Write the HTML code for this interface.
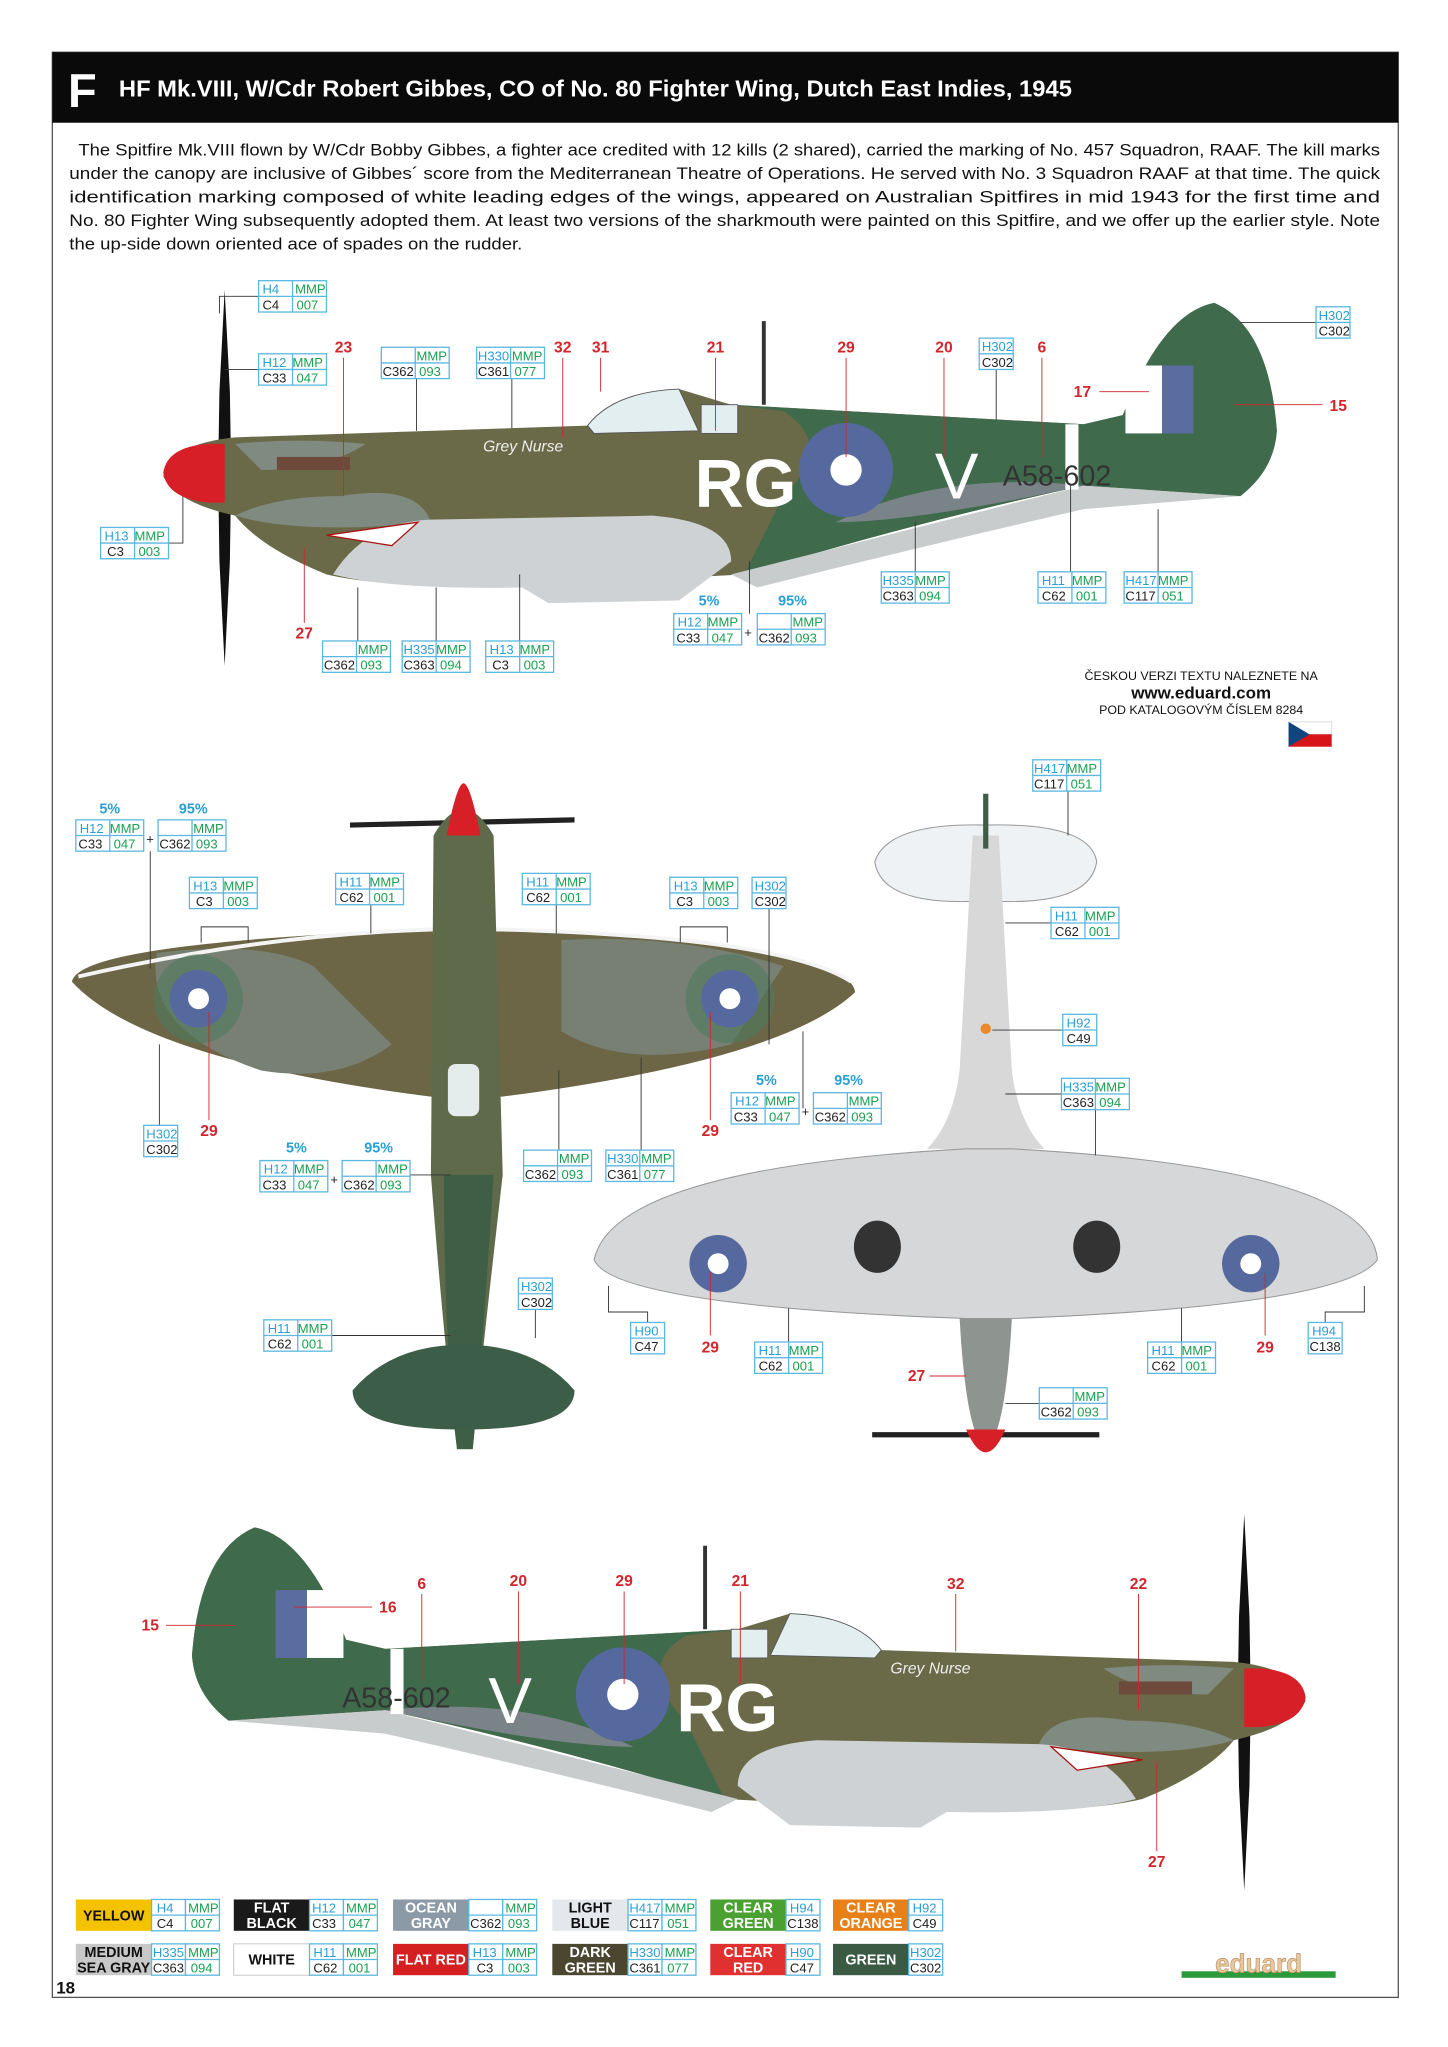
<!DOCTYPE html>
<html><head><meta charset="utf-8"><style>
html,body{margin:0;padding:0;background:#fff}
svg{display:block}
text{font-family:"Liberation Sans",sans-serif}
.h{fill:#2a9fd6;font-size:10px}.m{fill:#1aa050;font-size:10px}.c{fill:#222;font-size:10px}
.r{fill:#d0262c;font-size:12px;font-weight:bold}
.p{fill:#2a9fd6;font-size:11px;font-weight:bold}
.ld{stroke:#333;stroke-width:.7;fill:none}
.lr{stroke:#d0262c;stroke-width:.7;fill:none}
.lg{font-size:11px;font-weight:bold;fill:#fff;text-anchor:middle}
</style></head><body>
<svg width="1448" height="2047" viewBox="0 0 1109 1568" xmlns="http://www.w3.org/2000/svg" xmlns:xlink="http://www.w3.org/1999/xlink">
<defs>
<g id="bx"><rect x="0" y="0" width="52" height="24" fill="#fff" stroke="#5bb8e0" stroke-width="1"/><line x1="26" y1="0" x2="26" y2="24" stroke="#5bb8e0"/><line x1="0" y1="12" x2="52" y2="12" stroke="#5bb8e0"/></g>
<g id="bs"><rect x="0" y="0" width="26" height="24" fill="#fff" stroke="#5bb8e0" stroke-width="1"/><line x1="0" y1="12" x2="26" y2="12" stroke="#5bb8e0"/></g>
<g id="side">
 <path d="M172,222 L176,300 L177,362 L176,430 L172,510 L168,430 L167,362 L168,300Z" fill="#111"/>
 <path d="M125,365 Q130,340 180,335 L450,326 Q470,300 520,298 L560,310 L830,325 L860,318 Q890,240 930,232 Q972,250 978,330 Q976,360 950,380 L830,372 Q700,400 570,440 L420,448 Q300,452 250,440 Q200,420 180,395 Q135,385 125,365Z" fill="#6b6a48"/>
 <path d="M560,310 L830,325 L860,318 Q890,240 930,232 Q972,250 978,330 Q976,360 950,380 L830,372 Q700,400 570,440 L600,380 Q640,340 600,315Z" fill="#3f6b4c"/>
 <path d="M180,395 Q230,410 330,400 Q320,370 260,380 Q210,380 180,395Z" fill="#7f8a80"/>
 <path d="M180,340 Q230,335 280,340 Q250,360 200,360Z" fill="#7f8a80"/>
 <path d="M640,400 Q720,360 830,372 Q700,400 640,400Z" fill="#7a8488"/>
 <path d="M255,440 Q280,400 330,398 L500,395 Q560,400 560,430 L520,460 L420,462 L400,450 Q300,452 255,440Z" fill="#cfd2d4"/>
 <path d="M560,440 L830,372 L950,380 L830,390 Q700,420 580,450Z" fill="#c8cccc"/>
 <path d="M450,326 Q470,300 520,298 L535,330 L455,332Z" fill="#e2eef0" stroke="#555" stroke-width=".7"/>
 <rect x="537" y="310" width="28" height="22" fill="#e2eef0" stroke="#555" stroke-width=".7"/>
 <line x1="585" y1="246" x2="585" y2="310" stroke="#333" stroke-width="3"/>
 <rect x="816" y="325" width="10" height="50" fill="#fff"/>
 <rect x="862" y="280" width="28" height="52" fill="#fff"/><rect x="890" y="280" width="24" height="52" fill="#5a6ca0"/>
 <path d="M125,362 Q128,342 160,340 L172,340 L172,385 L160,385 Q128,382 125,362Z" fill="#d61f26"/>
 <circle cx="648" cy="360" r="36" fill="#56699e"/><circle cx="648" cy="360" r="12" fill="#fff"/>
 <rect x="212" y="350" width="56" height="10" fill="#6d4a3c"/>
 <path d="M250,410 L320,400 L300,418 Z" fill="#fff" stroke="#a11" stroke-width="1"/>
</g>
</defs>
<rect x="40" y="40" width="1031" height="1490" fill="#fff" stroke="#555" stroke-width="1"/>
<rect x="40" y="40" width="1031" height="54" fill="#0a0a0a"/>
<text x="52" y="82" fill="#fff" font-size="36" font-weight="bold">F</text>
<text x="91" y="74" fill="#fff" font-size="18" font-weight="bold" textLength="730" lengthAdjust="spacingAndGlyphs">HF Mk.VIII, W/Cdr Robert Gibbes, CO of No. 80 Fighter Wing, Dutch East Indies, 1945</text>
<g font-size="12.5" fill="#111">
<text x="60" y="119" textLength="997" lengthAdjust="spacingAndGlyphs">The Spitfire Mk.VIII flown by W/Cdr Bobby Gibbes, a fighter ace credited with 12 kills (2 shared), carried the marking of No. 457 Squadron, RAAF. The kill marks</text>
<text x="53" y="137" textLength="1004" lengthAdjust="spacingAndGlyphs">under the canopy are inclusive of Gibbes´ score from the Mediterranean Theatre of Operations. He served with No. 3 Squadron RAAF at that time. The quick</text>
<text x="53" y="155" textLength="1004" lengthAdjust="spacingAndGlyphs">identification marking composed of white leading edges of the wings, appeared on Australian Spitfires in mid 1943 for the first time and</text>
<text x="53" y="173" textLength="1004" lengthAdjust="spacingAndGlyphs">No. 80 Fighter Wing subsequently adopted them. At least two versions of the sharkmouth were painted on this Spitfire, and we offer up the earlier style. Note</text>
<text x="53" y="191" textLength="347" lengthAdjust="spacingAndGlyphs">the up-side down oriented ace of spades on the rudder.</text>
</g>
<use xlink:href="#side"/>
<text x="532" y="388" fill="#fff" font-size="52" font-weight="bold">RG</text>
<text x="716" y="382" fill="#fff" font-size="50">V</text>
<text x="768" y="372" fill="#333" font-size="22">A58-602</text>
<text x="370" y="346" fill="#eee" font-size="12" font-style="italic">Grey Nurse</text>
<use xlink:href="#side" transform="translate(1125,938) scale(-1,1)"/>
<text x="374" y="1320" fill="#fff" font-size="50">V</text>
<text x="518" y="1326" fill="#fff" font-size="52" font-weight="bold">RG</text>
<text x="262" y="1308" fill="#333" font-size="22">A58-602</text>
<text x="682" y="1282" fill="#eee" font-size="12" font-style="italic">Grey Nurse</text>
<!-- top view -->
<path d="M268,630 L440,626 L440,630 L268,634Z" fill="#222"/>
<path d="M55,752 Q60,722 330,712 L385,712 Q650,722 655,760 Q600,812 385,840 L330,840 Q110,812 55,752Z" fill="#6c6646"/>
<path d="M120,730 Q200,720 240,740 L300,800 Q260,830 200,820 Q110,790 120,730Z" fill="#788074"/>
<path d="M430,720 Q520,715 600,740 L560,800 Q480,820 430,790Z" fill="#788074"/>
<path d="M60,748 Q200,716 330,712 L385,712 Q600,718 652,752" stroke="#f4f4f4" stroke-width="3" fill="none"/>
<path d="M332,640 Q355,600 378,640 L385,900 Q370,1030 362,1110 L350,1110 Q340,1030 330,900Z" fill="#5e6a4a"/>
<path d="M340,900 L378,900 Q370,1030 362,1110 L350,1110 Q340,1030 340,900Z" fill="#3f5e46"/>
<path d="M342,640 Q350,600 355,600 Q360,600 368,640Z" fill="#d61f26"/>
<path d="M270,1065 Q300,1030 355,1030 Q410,1030 440,1065 Q440,1095 355,1095 Q270,1095 270,1065Z" fill="#3c5e48"/>
<rect x="343" y="815" width="24" height="40" rx="6" fill="#e4ecec"/>
<circle cx="152" cy="765" r="34" fill="#4c7a5e" opacity=".6"/><circle cx="152" cy="765" r="22" fill="#56699e"/><circle cx="152" cy="765" r="8" fill="#fff"/>
<circle cx="559" cy="765" r="34" fill="#4c7a5e" opacity=".6"/><circle cx="559" cy="765" r="22" fill="#56699e"/><circle cx="559" cy="765" r="8" fill="#fff"/>
<!-- bottom view -->
<path d="M670,660 Q680,630 755,632 Q835,630 840,660 Q835,695 755,690 Q675,695 670,660Z" fill="#eef2f5" stroke="#999" stroke-width=".8"/>
<path d="M745,640 L765,640 L775,820 Q780,860 800,880 L710,880 Q730,860 735,820Z" fill="#d8d8d8"/>
<path d="M455,965 Q470,895 740,880 L775,880 Q1050,895 1055,965 Q1030,1000 775,1010 L740,1010 Q470,1000 455,965Z" fill="#d6d7d8" stroke="#999" stroke-width=".8"/>
<path d="M735,1010 L775,1010 Q770,1100 755,1110 Q740,1100 735,1010Z" fill="#8e9490"/>
<path d="M668,1097 L842,1097 L842,1101 L668,1101Z" fill="#222"/>
<path d="M740,1095 Q755,1130 770,1095Z" fill="#d61f26"/>
<line x1="755" y1="608" x2="755" y2="650" stroke="#3c5e48" stroke-width="4"/>
<circle cx="550" cy="968" r="22" fill="#56699e"/><circle cx="550" cy="968" r="8" fill="#fff"/>
<circle cx="958" cy="968" r="22" fill="#56699e"/><circle cx="958" cy="968" r="8" fill="#fff"/>
<ellipse cx="672" cy="955" rx="18" ry="20" fill="#333"/><ellipse cx="840" cy="955" rx="18" ry="20" fill="#333"/>
<circle cx="755" cy="788" r="4" fill="#e88a2a"/>
<text x="920" y="521" font-size="9.5" text-anchor="middle" fill="#111">ČESKOU VERZI TEXTU NALEZNETE NA</text>
<text x="920" y="535" font-size="13" font-weight="bold" text-anchor="middle" fill="#111">www.eduard.com</text>
<text x="920" y="547" font-size="9.5" text-anchor="middle" fill="#111">POD KATALOGOVÝM ČÍSLEM 8284</text>
<rect x="987" y="553" width="33" height="9.5" fill="#fff" stroke="#ccc" stroke-width=".5"/><rect x="987" y="562.5" width="33" height="9.5" fill="#d7141a"/><path d="M987,553 L1003,562.5 L987,572Z" fill="#11457e"/>
<g class="r" text-anchor="middle">
<text x="263" y="270">23</text><text x="431" y="270">32</text><text x="460" y="270">31</text><text x="548" y="270">21</text><text x="648" y="270">29</text><text x="723" y="270">20</text><text x="798" y="270">6</text><text x="829" y="304">17</text><text x="1025" y="315">15</text><text x="233" y="489">27</text>
<text x="160" y="870">29</text><text x="544" y="870">29</text><text x="544" y="1036">29</text><text x="702" y="1058">27</text><text x="969" y="1036">29</text>
<text x="115" y="1249">15</text><text x="297" y="1235">16</text><text x="323" y="1217">6</text><text x="397" y="1215">20</text><text x="478" y="1215">29</text><text x="567" y="1215">21</text><text x="732" y="1217">32</text><text x="872" y="1217">22</text><text x="886" y="1430">27</text>
</g>
<g class="lr">
<line x1="263" y1="274" x2="263" y2="380"/><line x1="431" y1="274" x2="431" y2="335"/><line x1="460" y1="274" x2="460" y2="300"/><line x1="548" y1="274" x2="548" y2="330"/><line x1="648" y1="274" x2="648" y2="350"/><line x1="723" y1="274" x2="723" y2="350"/><line x1="798" y1="274" x2="798" y2="350"/><line x1="842" y1="300" x2="880" y2="300"/><line x1="945" y1="310" x2="1013" y2="310"/><line x1="233" y1="477" x2="233" y2="420"/>
<line x1="160" y1="858" x2="160" y2="775"/><line x1="544" y1="858" x2="544" y2="775"/><line x1="544" y1="1023" x2="544" y2="975"/><line x1="969" y1="1023" x2="969" y2="975"/><line x1="712" y1="1054" x2="740" y2="1054"/>
<line x1="127" y1="1245" x2="180" y2="1245"/><line x1="285" y1="1231" x2="225" y2="1231"/><line x1="323" y1="1221" x2="323" y2="1290"/><line x1="397" y1="1219" x2="397" y2="1290"/><line x1="478" y1="1219" x2="478" y2="1290"/><line x1="567" y1="1219" x2="567" y2="1290"/><line x1="732" y1="1221" x2="732" y2="1265"/><line x1="872" y1="1221" x2="872" y2="1310"/><line x1="886" y1="1418" x2="886" y2="1350"/>
</g>
<g class="ld">
<polyline points="198,227 168,227 168,240"/><polyline points="198,283 172,283"/><line x1="319" y1="290" x2="319" y2="330"/><line x1="392" y1="290" x2="392" y2="328"/><line x1="763" y1="283" x2="763" y2="322"/><polyline points="1008,247 950,247"/><polyline points="129,416 140,416 140,380"/><line x1="701" y1="438" x2="701" y2="400"/><line x1="820" y1="438" x2="820" y2="372"/><line x1="887" y1="438" x2="887" y2="390"/><line x1="574" y1="470" x2="574" y2="430"/><line x1="274" y1="491" x2="274" y2="450"/><line x1="334" y1="491" x2="334" y2="450"/><line x1="398" y1="491" x2="398" y2="440"/>
<polyline points="115,652 115,742"/><polyline points="154,722 154,710 190,710 190,722"/><line x1="284" y1="693" x2="284" y2="715"/><line x1="426" y1="693" x2="426" y2="715"/><polyline points="521,722 521,710 557,710 557,722"/><line x1="589" y1="696" x2="589" y2="800"/><line x1="122" y1="862" x2="122" y2="800"/><line x1="314" y1="900" x2="345" y2="900"/><line x1="428" y1="881" x2="428" y2="820"/><line x1="491" y1="881" x2="491" y2="810"/><line x1="615" y1="849" x2="615" y2="790"/><line x1="410" y1="979" x2="410" y2="1025"/><line x1="254" y1="1023" x2="345" y2="1023"/>
<line x1="818" y1="606" x2="818" y2="640"/><line x1="805" y1="707" x2="770" y2="707"/><line x1="814" y1="789" x2="760" y2="789"/><line x1="813" y1="838" x2="770" y2="838"/><line x1="839" y1="850" x2="839" y2="885"/><polyline points="496,1013 496,1005 466,1005 466,985"/><line x1="604" y1="1028" x2="604" y2="1002"/><line x1="905" y1="1028" x2="905" y2="1002"/><polyline points="1015,1013 1015,1005 1045,1005 1045,985"/><line x1="796" y1="1075" x2="770" y2="1075"/>
</g>
<g>
<use xlink:href="#bx" x="198" y="215"/><text x="201" y="225" class="h">H4</text><text x="226" y="225" class="m">MMP</text><text x="201" y="237" class="c">C4</text><text x="227" y="237" class="m">007</text>
<use xlink:href="#bx" x="198" y="271"/><text x="201" y="281" class="h">H12</text><text x="224" y="281" class="m">MMP</text><text x="201" y="293" class="c">C33</text><text x="227" y="293" class="m">047</text>
<use xlink:href="#bx" x="292" y="266"/><text x="319" y="276" class="m">MMP</text><text x="293" y="288" class="c">C362</text><text x="321" y="288" class="m">093</text>
<use xlink:href="#bx" x="365" y="266"/><text x="366" y="276" class="h">H330</text><text x="392" y="276" class="m">MMP</text><text x="366" y="288" class="c">C361</text><text x="394" y="288" class="m">077</text>
<use xlink:href="#bs" x="750" y="259"/><text x="752" y="269" class="h">H302</text><text x="752" y="281" class="c">C302</text>
<use xlink:href="#bs" x="1008" y="235"/><text x="1010" y="245" class="h">H302</text><text x="1010" y="257" class="c">C302</text>
<use xlink:href="#bx" x="77" y="404"/><text x="80" y="414" class="h">H13</text><text x="103" y="414" class="m">MMP</text><text x="82" y="426" class="c">C3</text><text x="106" y="426" class="m">003</text>
<use xlink:href="#bx" x="675" y="438"/><text x="676" y="448" class="h">H335</text><text x="701" y="448" class="m">MMP</text><text x="676" y="460" class="c">C363</text><text x="704" y="460" class="m">094</text>
<use xlink:href="#bx" x="795" y="438"/><text x="798" y="448" class="h">H11</text><text x="821" y="448" class="m">MMP</text><text x="798" y="460" class="c">C62</text><text x="824" y="460" class="m">001</text>
<use xlink:href="#bx" x="861" y="438"/><text x="862" y="448" class="h">H417</text><text x="887" y="448" class="m">MMP</text><text x="862" y="460" class="c">C117</text><text x="890" y="460" class="m">051</text>
<text x="543" y="464" class="p" text-anchor="middle">5%</text><text x="607" y="464" class="p" text-anchor="middle">95%</text>
<use xlink:href="#bx" x="516" y="470"/><text x="519" y="480" class="h">H12</text><text x="542" y="480" class="m">MMP</text><text x="518" y="492" class="c">C33</text><text x="545" y="492" class="m">047</text><text x="570" y="488" class="c">+</text>
<use xlink:href="#bx" x="580" y="470"/><text x="607" y="480" class="m">MMP</text><text x="581" y="492" class="c">C362</text><text x="609" y="492" class="m">093</text>
<use xlink:href="#bx" x="247" y="491"/><text x="274" y="501" class="m">MMP</text><text x="248" y="513" class="c">C362</text><text x="276" y="513" class="m">093</text>
<use xlink:href="#bx" x="308" y="491"/><text x="309" y="501" class="h">H335</text><text x="334" y="501" class="m">MMP</text><text x="309" y="513" class="c">C363</text><text x="337" y="513" class="m">094</text>
<use xlink:href="#bx" x="372" y="491"/><text x="375" y="501" class="h">H13</text><text x="398" y="501" class="m">MMP</text><text x="377" y="513" class="c">C3</text><text x="401" y="513" class="m">003</text>
<text x="84" y="623" class="p" text-anchor="middle">5%</text><text x="148" y="623" class="p" text-anchor="middle">95%</text>
<use xlink:href="#bx" x="58" y="628"/><text x="61" y="638" class="h">H12</text><text x="84" y="638" class="m">MMP</text><text x="60" y="650" class="c">C33</text><text x="87" y="650" class="m">047</text><text x="112" y="646" class="c">+</text>
<use xlink:href="#bx" x="121" y="628"/><text x="148" y="638" class="m">MMP</text><text x="122" y="650" class="c">C362</text><text x="150" y="650" class="m">093</text>
<use xlink:href="#bx" x="145" y="672"/><text x="148" y="682" class="h">H13</text><text x="171" y="682" class="m">MMP</text><text x="150" y="694" class="c">C3</text><text x="174" y="694" class="m">003</text>
<use xlink:href="#bx" x="257" y="669"/><text x="260" y="679" class="h">H11</text><text x="283" y="679" class="m">MMP</text><text x="260" y="691" class="c">C62</text><text x="286" y="691" class="m">001</text>
<use xlink:href="#bx" x="400" y="669"/><text x="403" y="679" class="h">H11</text><text x="426" y="679" class="m">MMP</text><text x="403" y="691" class="c">C62</text><text x="429" y="691" class="m">001</text>
<use xlink:href="#bx" x="513" y="672"/><text x="516" y="682" class="h">H13</text><text x="539" y="682" class="m">MMP</text><text x="518" y="694" class="c">C3</text><text x="542" y="694" class="m">003</text>
<use xlink:href="#bs" x="576" y="672"/><text x="578" y="682" class="h">H302</text><text x="578" y="694" class="c">C302</text>
<use xlink:href="#bs" x="110" y="862"/><text x="112" y="872" class="h">H302</text><text x="112" y="884" class="c">C302</text>
<text x="227" y="883" class="p" text-anchor="middle">5%</text><text x="290" y="883" class="p" text-anchor="middle">95%</text>
<use xlink:href="#bx" x="199" y="889"/><text x="202" y="899" class="h">H12</text><text x="225" y="899" class="m">MMP</text><text x="201" y="911" class="c">C33</text><text x="228" y="911" class="m">047</text><text x="253" y="907" class="c">+</text>
<use xlink:href="#bx" x="262" y="889"/><text x="289" y="899" class="m">MMP</text><text x="263" y="911" class="c">C362</text><text x="291" y="911" class="m">093</text>
<use xlink:href="#bx" x="401" y="881"/><text x="428" y="891" class="m">MMP</text><text x="402" y="903" class="c">C362</text><text x="430" y="903" class="m">093</text>
<use xlink:href="#bx" x="464" y="881"/><text x="465" y="891" class="h">H330</text><text x="491" y="891" class="m">MMP</text><text x="465" y="903" class="c">C361</text><text x="493" y="903" class="m">077</text>
<text x="587" y="831" class="p" text-anchor="middle">5%</text><text x="650" y="831" class="p" text-anchor="middle">95%</text>
<use xlink:href="#bx" x="560" y="837"/><text x="563" y="847" class="h">H12</text><text x="586" y="847" class="m">MMP</text><text x="562" y="859" class="c">C33</text><text x="589" y="859" class="m">047</text><text x="614" y="855" class="c">+</text>
<use xlink:href="#bx" x="623" y="837"/><text x="650" y="847" class="m">MMP</text><text x="624" y="859" class="c">C362</text><text x="652" y="859" class="m">093</text>
<use xlink:href="#bs" x="397" y="979"/><text x="399" y="989" class="h">H302</text><text x="399" y="1001" class="c">C302</text>
<use xlink:href="#bx" x="202" y="1011"/><text x="205" y="1021" class="h">H11</text><text x="228" y="1021" class="m">MMP</text><text x="205" y="1033" class="c">C62</text><text x="231" y="1033" class="m">001</text>
<use xlink:href="#bx" x="791" y="582"/><text x="792" y="592" class="h">H417</text><text x="817" y="592" class="m">MMP</text><text x="792" y="604" class="c">C117</text><text x="820" y="604" class="m">051</text>
<use xlink:href="#bx" x="805" y="695"/><text x="808" y="705" class="h">H11</text><text x="831" y="705" class="m">MMP</text><text x="808" y="717" class="c">C62</text><text x="834" y="717" class="m">001</text>
<use xlink:href="#bs" x="814" y="777"/><text x="817" y="787" class="h">H92</text><text x="817" y="799" class="c">C49</text>
<use xlink:href="#bx" x="813" y="826"/><text x="814" y="836" class="h">H335</text><text x="839" y="836" class="m">MMP</text><text x="814" y="848" class="c">C363</text><text x="842" y="848" class="m">094</text>
<use xlink:href="#bs" x="483" y="1013"/><text x="486" y="1023" class="h">H90</text><text x="486" y="1035" class="c">C47</text>
<use xlink:href="#bx" x="578" y="1028"/><text x="581" y="1038" class="h">H11</text><text x="604" y="1038" class="m">MMP</text><text x="581" y="1050" class="c">C62</text><text x="607" y="1050" class="m">001</text>
<use xlink:href="#bx" x="879" y="1028"/><text x="882" y="1038" class="h">H11</text><text x="905" y="1038" class="m">MMP</text><text x="882" y="1050" class="c">C62</text><text x="908" y="1050" class="m">001</text>
<use xlink:href="#bs" x="1002" y="1013"/><text x="1005" y="1023" class="h">H94</text><text x="1003" y="1035" class="c">C138</text>
<use xlink:href="#bx" x="796" y="1063"/><text x="823" y="1073" class="m">MMP</text><text x="797" y="1085" class="c">C362</text><text x="825" y="1085" class="m">093</text>
</g>
<g>
<g transform="translate(58,1455)"><rect width="58" height="24" fill="#f5c200"/><text x="29" y="16" class="lg" style="fill:#111">YELLOW</text><use xlink:href="#bs" x="58"/><use xlink:href="#bs" x="84"/><text x="62" y="10" class="h">H4</text><text x="86" y="10" class="m">MMP</text><text x="62" y="22" class="c">C4</text><text x="88" y="22" class="m">007</text></g>
<g transform="translate(179,1455)"><rect width="58" height="24" fill="#1a1a1a"/><text x="29" y="10" class="lg">FLAT</text><text x="29" y="22" class="lg">BLACK</text><use xlink:href="#bs" x="58"/><use xlink:href="#bs" x="84"/><text x="60" y="10" class="h">H12</text><text x="86" y="10" class="m">MMP</text><text x="60" y="22" class="c">C33</text><text x="88" y="22" class="m">047</text></g>
<g transform="translate(301,1455)"><rect width="58" height="24" fill="#8c9aa8"/><text x="29" y="10" class="lg">OCEAN</text><text x="29" y="22" class="lg">GRAY</text><use xlink:href="#bs" x="58"/><use xlink:href="#bs" x="84"/><text x="86" y="10" class="m">MMP</text><text x="59" y="22" class="c">C362</text><text x="88" y="22" class="m">093</text></g>
<g transform="translate(423,1455)"><rect width="58" height="24" fill="#e4e8ec"/><text x="29" y="10" class="lg" style="fill:#111">LIGHT</text><text x="29" y="22" class="lg" style="fill:#111">BLUE</text><use xlink:href="#bs" x="58"/><use xlink:href="#bs" x="84"/><text x="59" y="10" class="h">H417</text><text x="86" y="10" class="m">MMP</text><text x="59" y="22" class="c">C117</text><text x="88" y="22" class="m">051</text></g>
<g transform="translate(544,1455)"><rect width="58" height="24" fill="#4aa030"/><text x="29" y="10" class="lg">CLEAR</text><text x="29" y="22" class="lg">GREEN</text><use xlink:href="#bs" x="58"/><text x="61" y="10" class="h">H94</text><text x="59" y="22" class="c">C138</text></g>
<g transform="translate(638,1455)"><rect width="58" height="24" fill="#e8801a"/><text x="29" y="10" class="lg">CLEAR</text><text x="29" y="22" class="lg">ORANGE</text><use xlink:href="#bs" x="58"/><text x="61" y="10" class="h">H92</text><text x="61" y="22" class="c">C49</text></g>
<g transform="translate(58,1489)"><rect width="58" height="24" fill="#c8c8c8"/><text x="29" y="10" class="lg" style="fill:#111">MEDIUM</text><text x="29" y="22" class="lg" style="fill:#111">SEA GRAY</text><use xlink:href="#bs" x="58"/><use xlink:href="#bs" x="84"/><text x="59" y="10" class="h">H335</text><text x="86" y="10" class="m">MMP</text><text x="59" y="22" class="c">C363</text><text x="88" y="22" class="m">094</text></g>
<g transform="translate(179,1489)"><rect width="58" height="24" fill="#fff" stroke="#bbb" stroke-width=".6"/><text x="29" y="16" class="lg" style="fill:#111">WHITE</text><use xlink:href="#bs" x="58"/><use xlink:href="#bs" x="84"/><text x="61" y="10" class="h">H11</text><text x="86" y="10" class="m">MMP</text><text x="61" y="22" class="c">C62</text><text x="88" y="22" class="m">001</text></g>
<g transform="translate(301,1489)"><rect width="58" height="24" fill="#d42020"/><text x="29" y="16" class="lg">FLAT RED</text><use xlink:href="#bs" x="58"/><use xlink:href="#bs" x="84"/><text x="61" y="10" class="h">H13</text><text x="86" y="10" class="m">MMP</text><text x="64" y="22" class="c">C3</text><text x="88" y="22" class="m">003</text></g>
<g transform="translate(423,1489)"><rect width="58" height="24" fill="#4a4630"/><text x="29" y="10" class="lg">DARK</text><text x="29" y="22" class="lg">GREEN</text><use xlink:href="#bs" x="58"/><use xlink:href="#bs" x="84"/><text x="59" y="10" class="h">H330</text><text x="86" y="10" class="m">MMP</text><text x="59" y="22" class="c">C361</text><text x="88" y="22" class="m">077</text></g>
<g transform="translate(544,1489)"><rect width="58" height="24" fill="#e03030"/><text x="29" y="10" class="lg">CLEAR</text><text x="29" y="22" class="lg">RED</text><use xlink:href="#bs" x="58"/><text x="61" y="10" class="h">H90</text><text x="61" y="22" class="c">C47</text></g>
<g transform="translate(638,1489)"><rect width="58" height="24" fill="#3a5a44"/><text x="29" y="16" class="lg">GREEN</text><use xlink:href="#bs" x="58"/><text x="59" y="10" class="h">H302</text><text x="59" y="22" class="c">C302</text></g>
</g>
<text x="43" y="1527" font-size="13" font-weight="bold" fill="#111">18</text>
<rect x="905" y="1510" width="118" height="5" fill="#2a9a3a"/>
<text x="964" y="1511" font-size="20" font-weight="bold" fill="#e8c8a0" text-anchor="middle" stroke="#b89060" stroke-width=".5">eduard</text>
</svg>
</body></html>
